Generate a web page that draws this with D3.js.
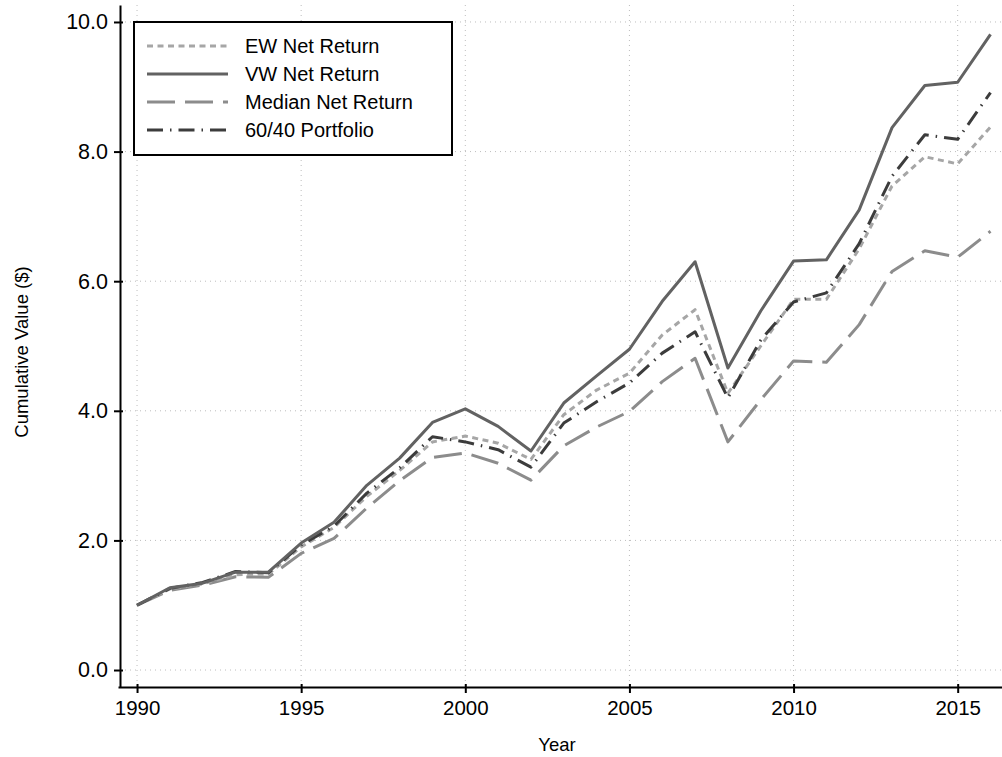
<!DOCTYPE html>
<html><head><meta charset="utf-8">
<script src="https://cdn.jsdelivr.net/npm/d3@7"></script>
<style>body{margin:0;background:#fff;} svg{display:block;font-family:"Liberation Sans",Arial,sans-serif;}</style>
</head><body><svg id="c" width="1002" height="757"></svg>
<script>
const years = d3.range(1990, 2017);
const ewNet = [1.00,1.25,1.33,1.47,1.48,1.90,2.20,2.68,3.08,3.52,3.61,3.50,3.25,3.94,4.32,4.58,5.17,5.56,4.27,5.00,5.72,5.72,6.50,7.47,7.92,7.81,8.38];
const vwNet = [1.00,1.27,1.34,1.51,1.51,1.96,2.28,2.85,3.27,3.82,4.03,3.76,3.38,4.12,4.54,4.95,5.69,6.30,4.66,5.54,6.31,6.33,7.10,8.37,9.02,9.07,9.81];
const medianNet = [1.00,1.23,1.31,1.44,1.43,1.80,2.03,2.50,2.92,3.28,3.35,3.19,2.93,3.46,3.75,3.99,4.45,4.81,3.52,4.17,4.77,4.75,5.33,6.15,6.47,6.37,6.77];
const port6040 = [1.00,1.26,1.35,1.52,1.50,1.93,2.22,2.73,3.12,3.60,3.52,3.40,3.13,3.81,4.14,4.43,4.89,5.22,4.20,5.09,5.68,5.82,6.58,7.62,8.26,8.19,8.91];
const seriesNames = ["EW Net Return","VW Net Return","Median Net Return","60/40 Portfolio"];
const xTicks = [1990,1995,2000,2005,2010,2015];
const yTicks = [0,2,4,6,8,10];

const styles = [
  {color:"#a6a6a6", dash:"6,4.5", w:3},
  {color:"#626262", dash:null, w:3},
  {color:"#8c8c8c", dash:"28,10", w:3},
  {color:"#3c3c3c", dash:"16,7,1.5,7", w:3}
];
const data = [ewNet, vwNet, medianNet, port6040];

const svg = d3.select("#c");
const x = d3.scaleLinear().domain([1989.42, 2016.35]).range([118, 1002]);
const y = d3.scaleLinear().domain([-0.262, 10.262]).range([687, 5]);

// grid
const grid = svg.append("g");
grid.selectAll(".gy").data(yTicks).join("line")
  .attr("x1", 120).attr("x2", 1002).attr("y1", d=>y(d)).attr("y2", d=>y(d))
  .attr("stroke", "#bdbdbd").attr("stroke-width", 1).attr("stroke-dasharray", "1,4");
grid.selectAll(".gx").data(xTicks).join("line")
  .attr("y1", 5).attr("y2", 686).attr("x1", d=>x(d)).attr("x2", d=>x(d))
  .attr("stroke", "#bdbdbd").attr("stroke-width", 1).attr("stroke-dasharray", "1,4");

// lines
const line = d3.line().x((d,i)=>x(years[i])).y(d=>y(d));
const order = [2,0,3,1];
order.forEach(k=>{
  svg.append("path").datum(data[k]).attr("d", line)
    .attr("fill","none").attr("stroke", styles[k].color).attr("stroke-width", styles[k].w)
    .attr("stroke-dasharray", styles[k].dash).attr("stroke-linejoin","round");
});

// axes
const yAxis = d3.axisLeft(y).tickValues(yTicks).tickFormat(d3.format(".1f")).tickSizeInner(6).tickSizeOuter(0).tickPadding(6);
const gy = svg.append("g").attr("transform","translate(120,0)").call(yAxis);
gy.select(".domain").attr("stroke","#000").attr("stroke-width",2);
gy.selectAll(".tick line").attr("stroke","#000").attr("stroke-width",2).attr("x2",-6).attr("x1",3);
gy.selectAll(".tick text").attr("font-size",21.5).attr("fill","#000").attr("font-family","Liberation Sans, Arial, sans-serif");

const xAxis = d3.axisBottom(x).tickValues(xTicks).tickFormat(d3.format("d")).tickSizeInner(6).tickSizeOuter(0).tickPadding(7);
const gx = svg.append("g").attr("transform","translate(0,687)").call(xAxis);
gx.select(".domain").attr("stroke","#000").attr("stroke-width",2);
gx.selectAll(".tick line").attr("stroke","#000").attr("stroke-width",2).attr("y1",-3).attr("y2",6);
gx.selectAll(".tick text").attr("font-size",20.5).attr("fill","#000").attr("font-family","Liberation Sans, Arial, sans-serif");

// axis titles
svg.append("text").attr("x", 557).attr("y", 751).attr("text-anchor","middle")
  .attr("font-size",18.5).text("Year");
svg.append("text").attr("transform","translate(28,352) rotate(-90)").attr("text-anchor","middle")
  .attr("font-size",18.5).text("Cumulative Value ($)");

// legend
const lg = svg.append("g");
lg.append("rect").attr("x",134).attr("y",22).attr("width",318).attr("height",133)
  .attr("fill","#fff").attr("stroke","#000").attr("stroke-width",2);
seriesNames.forEach((name,k)=>{
  const yy = 46 + k*28;
  lg.append("line").attr("x1",147).attr("x2",228).attr("y1",yy).attr("y2",yy)
    .attr("stroke",styles[k].color).attr("stroke-width",styles[k].w)
    .attr("stroke-dasharray",styles[k].dash);
  lg.append("text").attr("x",245).attr("y",yy+7).attr("font-size",20).attr("fill","#000").text(name);
});
</script></body></html>
